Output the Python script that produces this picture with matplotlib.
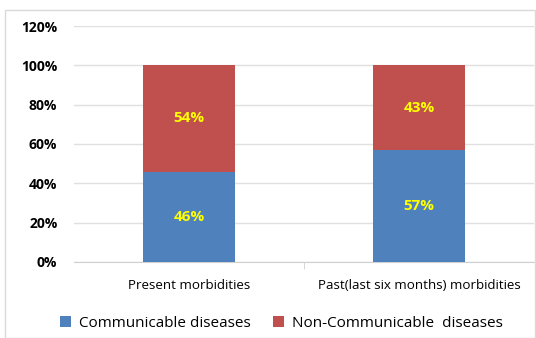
import matplotlib.pyplot as plt
from matplotlib.patches import Rectangle

categories = ["Present morbidities", "Past(last six months) morbidities"]
communicable = [46, 57]
non_communicable = [54, 43]
series_names = ["Communicable diseases", "Non-Communicable  diseases"]
yticks = [0, 20, 40, 60, 80, 100, 120]

blue = "#4F81BD"
red = "#C0504D"

plt.rcParams['font.family'] = ['Open Sans', 'DejaVu Sans']

fig = plt.figure(figsize=(5.36, 3.38), dpi=100)
ax = fig.add_axes([0.138, 0.225, 0.858, 0.698])

# light frame around the whole chart
fig.patches.append(Rectangle((5 / 536, 0), 530 / 536, 1 - 10 / 338, transform=fig.transFigure,
                             fill=False, edgecolor="#D9D9D9", linewidth=1))

x = range(len(categories))
b1 = ax.bar(x, communicable, width=0.4, color=blue, label=series_names[0], zorder=3)
b2 = ax.bar(x, non_communicable, width=0.4, bottom=communicable, color=red,
            label=series_names[1], zorder=3)

for bars, vals, base in [(b1, communicable, [0, 0]), (b2, non_communicable, communicable)]:
    for rect, v, b in zip(bars, vals, base):
        ax.text(rect.get_x() + rect.get_width() / 2, b + v / 2, f"{v}%", ha="center", va="center",
                color="#FFFF00", fontsize=11, fontweight="bold", zorder=4)

ax.set_xlim(-0.5, 1.5)
ax.set_ylim(0, 120)
ax.set_yticks(yticks)
ax.set_yticklabels([f"{t}%" for t in yticks], fontsize=10, fontweight="bold")
ax.set_xticks(list(x))
ax.set_xticklabels(categories, fontsize=9.6)
ax.tick_params(axis="x", length=0, pad=12)
ax.tick_params(axis="y", length=0, pad=12)
ax.grid(axis="y", color="#E0E0E0", linewidth=1, zorder=0)
for s in ["top", "right", "left"]:
    ax.spines[s].set_visible(False)
ax.spines["bottom"].set_color("#D0D0D0")
ax.set_xticks([0.5], minor=True)
ax.tick_params(axis="x", which="minor", length=5, color="#D0D0D0", direction="out")

fig.legend(handles=[b1, b2], loc="center", bbox_to_anchor=(0.525, 0.043), ncol=2, frameon=False,
           fontsize=11, handlelength=0.7, handleheight=0.7, columnspacing=1.5, handletextpad=0.5)

fig.savefig("out.png", dpi=100)
